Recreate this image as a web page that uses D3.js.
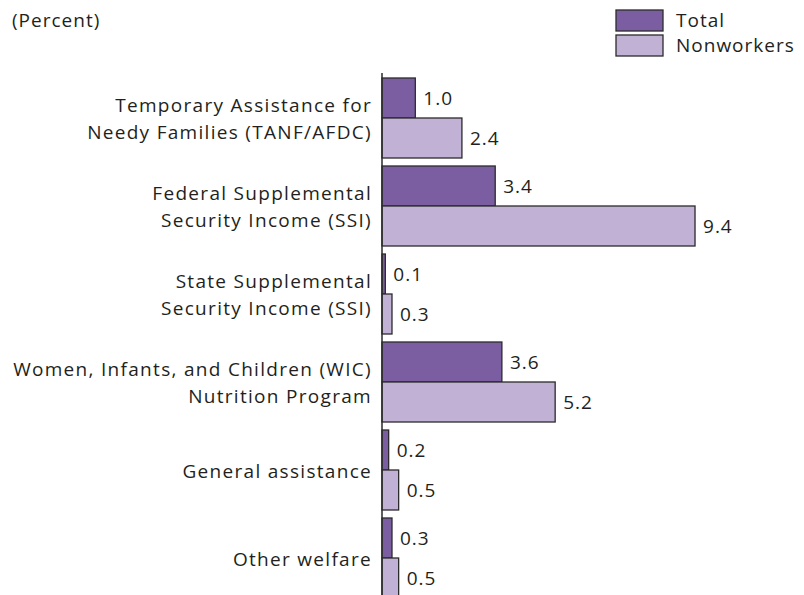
<!DOCTYPE html>
<html><head><meta charset="utf-8">
<script src="https://cdn.jsdelivr.net/npm/d3@7"></script>
<style>
body{margin:0;background:#fff;}
text{font-family:"Open Sans",sans-serif;fill:#231f20;letter-spacing:1px;}
text.cat{letter-spacing:1.3px;}
</style></head>
<body>
<svg id="chart" width="804" height="595"></svg>
<script>
const categories = [
  ["Temporary Assistance for","Needy Families (TANF/AFDC)"],
  ["Federal Supplemental","Security Income (SSI)"],
  ["State Supplemental","Security Income (SSI)"],
  ["Women, Infants, and Children (WIC)","Nutrition Program"],
  ["General assistance"],
  ["Other welfare"]
];
const seriesNames = ["Total","Nonworkers"];
const totalValues = [1.0, 3.4, 0.1, 3.6, 0.2, 0.3];
const nonworkerValues = [2.4, 9.4, 0.3, 5.2, 0.5, 0.5];
const colors = ["#7b5ea1","#c0b1d5"];

const svg = d3.select("#chart");
const keys = categories.map(c => c.join(" "));
const y = d3.scaleBand().domain(keys).range([78, 598]).paddingInner(8/88).paddingOuter(0);
const ySub = d3.scaleBand().domain(seriesNames).range([0, y.bandwidth()]);
const x = d3.scaleLinear().domain([0, 10]).range([382, 715]);
const fs = 19;

const data = [];
keys.forEach((k,i) => {
  data.push({cat:k, s:"Total", v: totalValues[i]});
  data.push({cat:k, s:"Nonworkers", v: nonworkerValues[i]});
});
const color = d3.scaleOrdinal().domain(seriesNames).range(colors);

svg.selectAll("rect.bar").data(data).join("rect")
  .attr("class","bar")
  .attr("x", x(0))
  .attr("y", d => y(d.cat) + ySub(d.s))
  .attr("width", d => x(d.v) - x(0))
  .attr("height", ySub.bandwidth())
  .attr("fill", d => color(d.s))
  .attr("stroke", "#2b2b2b")
  .attr("stroke-width", 1.3);

svg.selectAll("text.val").data(data).join("text")
  .attr("class","val")
  .attr("x", d => x(d.v) + 8)
  .attr("y", d => y(d.cat) + ySub(d.s) + ySub.bandwidth()/2)
  .attr("dy","0.35em")
  .attr("font-size", fs)
  .text(d => d3.format(".1f")(d.v));

// axis line
svg.append("line").attr("x1", x(0)).attr("x2", x(0))
  .attr("y1", 73).attr("y2", 600)
  .attr("stroke","#2b2b2b").attr("stroke-width",1.5);

// category labels
const lh = 27;
categories.forEach((lines,i) => {
  const cy = y(keys[i]) + y.bandwidth()/2 + 1;
  const t = svg.append("text").attr("class","cat").attr("text-anchor","end").attr("font-size", fs);
  lines.forEach((l,j) => {
    t.append("tspan").attr("x", 372)
     .attr("y", cy + (j - (lines.length-1)/2) * lh)
     .attr("dy","0.35em").text(l);
  });
});

svg.append("text").attr("x", 12).attr("y", 27).attr("font-size", fs).text("(Percent)");

// legend
const lg = svg.append("g");
seriesNames.forEach((s,i) => {
  lg.append("rect").attr("x", 616).attr("y", 10 + i*25).attr("width", 47).attr("height", 21)
    .attr("fill", colors[i]).attr("stroke","#2b2b2b").attr("stroke-width",1.3);
  lg.append("text").attr("x", 676).attr("y", 20.5 + i*25).attr("dy","0.35em")
    .attr("font-size", fs).text(s);
});
</script>
</body></html>
